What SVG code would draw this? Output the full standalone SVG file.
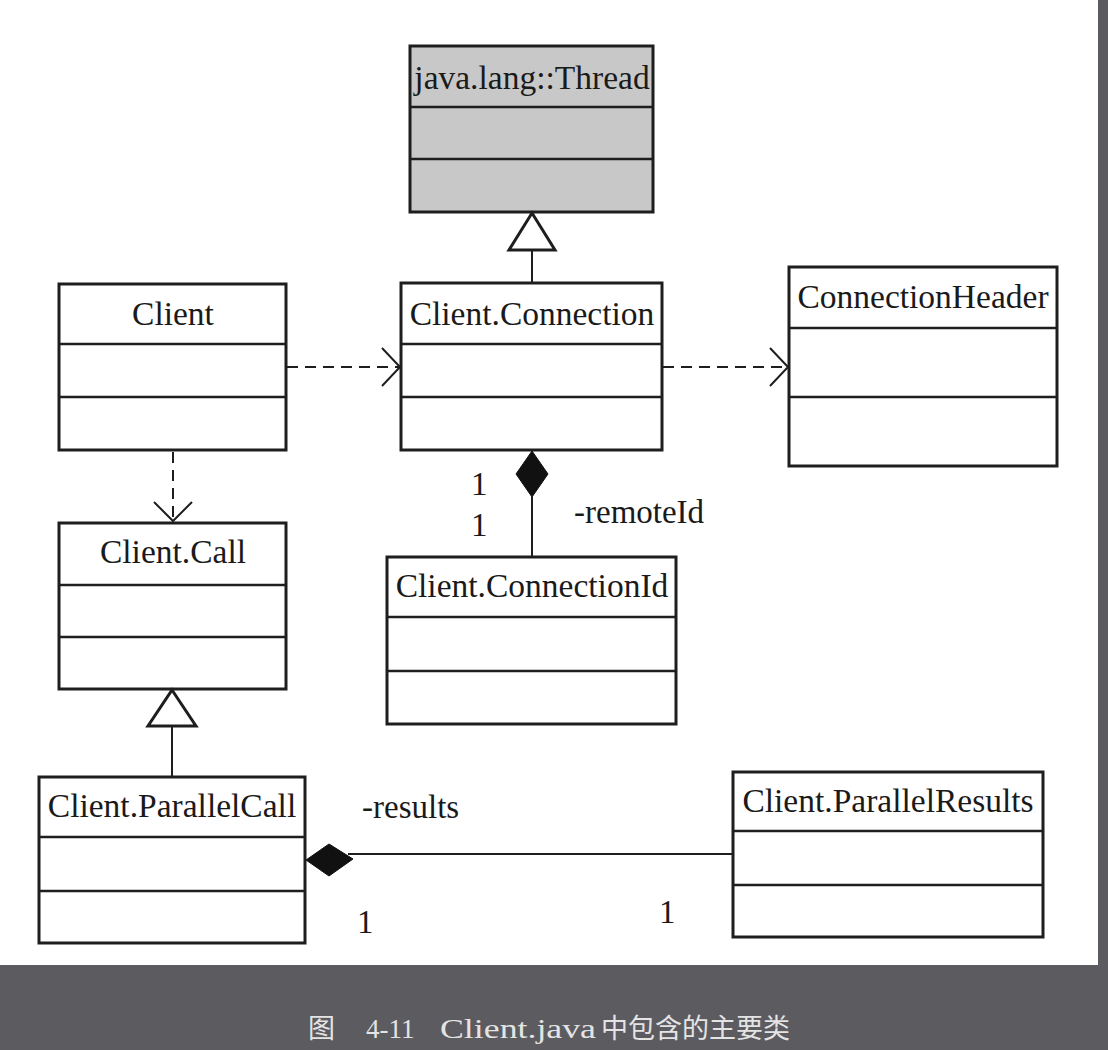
<svg xmlns="http://www.w3.org/2000/svg" width="1108" height="1050" viewBox="0 0 1108 1050">
<style>
.box{fill:#fff;stroke:#1e1e1e;stroke-width:3}
.gray{fill:#c8c8c8}
.div{stroke:#1e1e1e;stroke-width:2.5}
.t{font-family:"Liberation Serif","Times New Roman",serif;font-size:33.5px;fill:#1a1a1a;text-anchor:middle}
.lbl{font-family:"Liberation Serif","Times New Roman",serif;font-size:33px;fill:#1a1a1a}
.ln{stroke:#1e1e1e;stroke-width:2;fill:none}
.dash{stroke:#1e1e1e;stroke-width:2;fill:none;stroke-dasharray:11 7}
.tri{fill:#fff;stroke:#1e1e1e;stroke-width:3;stroke-linejoin:miter}
.dia{fill:#111;stroke:#111;stroke-width:1}
.cap{font-family:"Liberation Serif","Noto Sans CJK SC",serif;font-size:27px;fill:#e4e4e4}
</style>
<rect x="0" y="0" width="1108" height="1050" fill="#5c5b60"/>
<rect x="0" y="0" width="1098" height="965" fill="#fff"/>

<g id="thread">
<rect class="box gray" x="410" y="46" width="243" height="166"/>
<line class="div" x1="410" y1="107" x2="653" y2="107"/>
<line class="div" x1="410" y1="159" x2="653" y2="159"/>
<text class="t" x="532" y="89">java.lang::Thread</text>
</g>

<g id="client">
<rect class="box" x="59" y="284" width="227" height="166"/>
<line class="div" x1="59" y1="344" x2="286" y2="344"/>
<line class="div" x1="59" y1="397" x2="286" y2="397"/>
<text class="t" x="173" y="325">Client</text>
</g>

<g id="connection">
<rect class="box" x="401" y="283" width="261" height="167"/>
<line class="div" x1="401" y1="344" x2="662" y2="344"/>
<line class="div" x1="401" y1="397" x2="662" y2="397"/>
<text class="t" x="532" y="325">Client.Connection</text>
</g>

<g id="header">
<rect class="box" x="789" y="267" width="268" height="199"/>
<line class="div" x1="789" y1="328" x2="1057" y2="328"/>
<line class="div" x1="789" y1="397" x2="1057" y2="397"/>
<text class="t" x="923" y="308">ConnectionHeader</text>
</g>

<g id="call">
<rect class="box" x="59" y="523" width="227" height="166"/>
<line class="div" x1="59" y1="585" x2="286" y2="585"/>
<line class="div" x1="59" y1="637" x2="286" y2="637"/>
<text class="t" x="173" y="563">Client.Call</text>
</g>

<g id="connectionId">
<rect class="box" x="387" y="557" width="289" height="167"/>
<line class="div" x1="387" y1="617" x2="676" y2="617"/>
<line class="div" x1="387" y1="671" x2="676" y2="671"/>
<text class="t" x="532" y="597">Client.ConnectionId</text>
</g>

<g id="parallelCall">
<rect class="box" x="39" y="777" width="266" height="166"/>
<line class="div" x1="39" y1="837" x2="305" y2="837"/>
<line class="div" x1="39" y1="891" x2="305" y2="891"/>
<text class="t" x="172" y="817">Client.ParallelCall</text>
</g>

<g id="parallelResults">
<rect class="box" x="733" y="772" width="310" height="165"/>
<line class="div" x1="733" y1="831" x2="1043" y2="831"/>
<line class="div" x1="733" y1="885" x2="1043" y2="885"/>
<text class="t" x="888" y="812">Client.ParallelResults</text>
</g>

<g id="connectors">
<line class="ln" x1="532" y1="250" x2="532" y2="283"/>
<polygon class="tri" points="532,213 555,250 509,250"/>
<line class="dash" x1="287" y1="367" x2="399" y2="367"/>
<polyline class="ln" points="382,348 400,367 382,386"/>
<line class="dash" x1="663" y1="367" x2="787" y2="367"/>
<polyline class="ln" points="770,348 788,367 770,386"/>
<line class="dash" x1="173" y1="452" x2="173" y2="521"/>
<polyline class="ln" points="154,502 173,521 192,502"/>
<line class="ln" x1="532" y1="497" x2="532" y2="557"/>
<polygon class="dia" points="532,451 548,474 532,497 516,474"/>
<text class="lbl" x="471" y="495">1</text>
<text class="lbl" x="471" y="536">1</text>
<text class="lbl" x="574" y="523">-remoteId</text>
<line class="ln" x1="348" y1="854" x2="733" y2="854"/>
<polygon class="dia" points="306,860 329,844 353,859 329,876"/>
<polygon class="tri" points="172,690 196,726 148,726"/>
<line class="ln" x1="172" y1="726" x2="172" y2="777"/>
<text class="lbl" x="362" y="818">-results</text>
<text class="lbl" x="357" y="933">1</text>
<text class="lbl" x="659" y="923">1</text>
</g>

<g id="caption">
<text class="cap" x="308" y="1038">图</text>
<text class="cap" x="366" y="1038">4-11</text>
<text class="cap" x="440" y="1038" textLength="156" lengthAdjust="spacingAndGlyphs">Client.java</text>
<text class="cap" x="601" y="1038" textLength="189" lengthAdjust="spacing">中包含的主要类</text>
</g>
</svg>
